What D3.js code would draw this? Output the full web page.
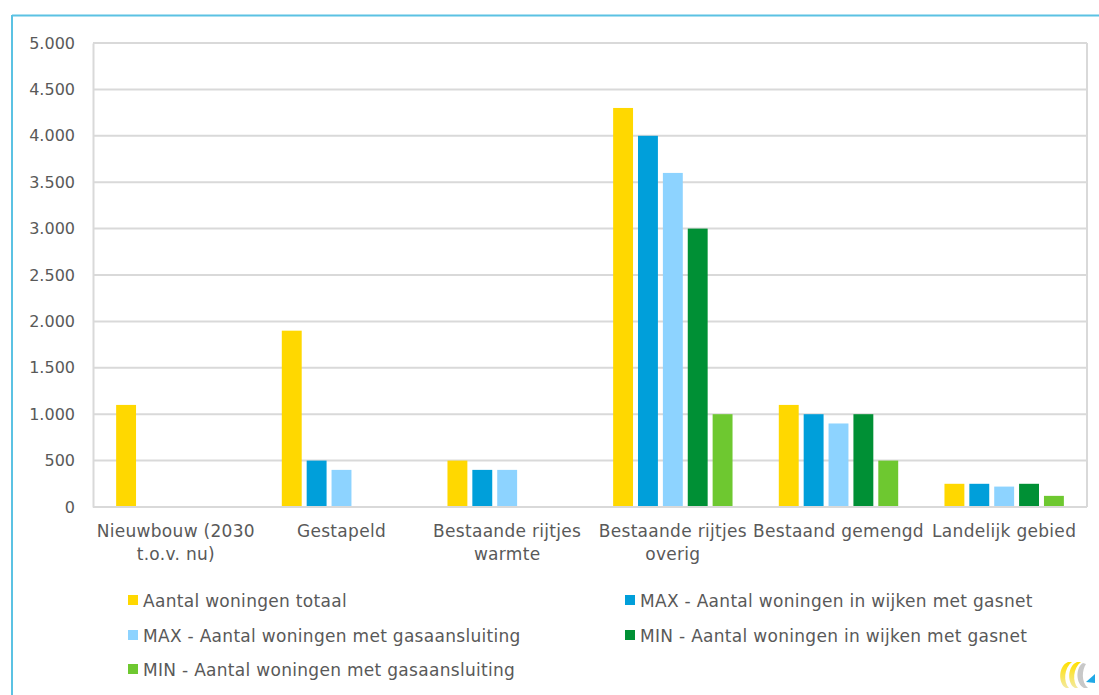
<!DOCTYPE html>
<html>
<head>
<meta charset="utf-8">
<script src="https://cdn.jsdelivr.net/npm/d3@7"></script>
<style>
  html, body { margin: 0; padding: 0; background: #fff; }
  svg { display: block; }
  text { font-family: "DejaVu Sans", sans-serif; fill: #595959; }
</style>
</head>
<body>
<svg id="chart" width="1099" height="695"></svg>
<script>
// Housing categories along the x axis (multi-line labels split on "|")
const categories = [
  "Nieuwbouw (2030|t.o.v. nu)",
  "Gestapeld",
  "Bestaande rijtjes|warmte",
  "Bestaande rijtjes|overig",
  "Bestaand gemengd",
  "Landelijk gebied"
];

// One array per series, in category order
const totaal      = [1100, 1900, 500, 4300, 1100, 250];
const maxWijken   = [0, 500, 400, 4000, 1000, 250];
const maxAansl    = [0, 400, 400, 3600, 900, 220];
const minWijken   = [0, 0, 0, 3000, 1000, 250];
const minAansl    = [0, 0, 0, 1000, 500, 120];

const seriesNames = [
  "Aantal woningen totaal",
  "MAX - Aantal woningen in wijken met gasnet",
  "MAX - Aantal woningen met gasaansluiting",
  "MIN - Aantal woningen in wijken met gasnet",
  "MIN - Aantal woningen met gasaansluiting"
];
const seriesValues = [totaal, maxWijken, maxAansl, minWijken, minAansl];
const seriesColors = ["#ffd800", "#009fda", "#8dd3ff", "#009035", "#6ec830"];

const yTicks = [0, 500, 1000, 1500, 2000, 2500, 3000, 3500, 4000, 4500, 5000];

const svg = d3.select("#chart");
const W = 1099, H = 695;
const plot = { left: 93, right: 1087, top: 43, bottom: 507 };

// Outer frame: thin blue rule on top and left
svg.append("line").attr("x1", 12).attr("x2", W).attr("y1", 15.5).attr("y2", 15.5)
  .attr("stroke", "#5bc2e3").attr("stroke-width", 2);
svg.append("line").attr("x1", 12).attr("x2", 12).attr("y1", 15).attr("y2", H)
  .attr("stroke", "#5bc2e3").attr("stroke-width", 2);

const x0 = d3.scaleBand().domain(categories).range([plot.left, plot.right]).paddingInner(0).paddingOuter(0);
const x1 = d3.scaleBand().domain(d3.range(seriesNames.length))
  .range([0, x0.bandwidth()]).paddingInner(0.2).paddingOuter(0.93);
const y = d3.scaleLinear().domain([0, 5000]).range([plot.bottom, plot.top]);

const fmt = v => d3.format(",")(v).replace(/,/g, ".");

// Horizontal gridlines
svg.append("g").selectAll("line").data(yTicks).join("line")
  .attr("x1", plot.left).attr("x2", plot.right)
  .attr("y1", d => y(d)).attr("y2", d => y(d))
  .attr("stroke", "#d9d9d9").attr("stroke-width", 2);

// Plot-area right rule
svg.append("line").attr("x1", plot.right).attr("x2", plot.right)
  .attr("y1", plot.top).attr("y2", plot.bottom).attr("stroke", "#d9d9d9").attr("stroke-width", 2);

// Y axis labels
const yAxis = d3.axisLeft(y).tickValues(yTicks).tickFormat(fmt).tickSize(0).tickPadding(18);
const gy = svg.append("g").attr("transform", `translate(${plot.left},0)`).call(yAxis);
gy.select(".domain").attr("stroke", "#d9d9d9").attr("stroke-width", 2);
gy.selectAll("text").style("font-size", "16px")
  .style("font-family", '"DejaVu Sans", sans-serif').attr("fill", "#595959");

// Bars
const groups = svg.append("g").selectAll("g").data(categories).join("g")
  .attr("transform", d => `translate(${x0(d)},0)`);
groups.selectAll("rect")
  .data((c, ci) => seriesValues.map((vals, si) => ({ si, v: vals[ci] })))
  .join("rect")
  .filter(d => d.v > 0)
  .attr("x", d => x1(d.si))
  .attr("width", x1.bandwidth())
  .attr("y", d => y(d.v))
  .attr("height", d => y(0) - y(d.v))
  .attr("fill", d => seriesColors[d.si]);

// Bottom axis line over the bars' base
svg.append("line").attr("x1", plot.left).attr("x2", plot.right)
  .attr("y1", y(0)).attr("y2", y(0)).attr("stroke", "#d9d9d9").attr("stroke-width", 2);

// Category labels
const xl = svg.append("g");
categories.forEach(c => {
  const lines = c.split("|");
  const cx = x0(c) + x0.bandwidth() / 2;
  const t = xl.append("text").attr("text-anchor", "middle")
    .attr("x", cx).attr("y", 537)
    .style("font-size", "17px").style("letter-spacing", "0.3px");
  lines.forEach((ln, i) => t.append("tspan")
    .attr("x", cx).attr("dy", i === 0 ? 0 : 23).text(ln));
});

// Legend, two columns
const legendPos = [
  [128, 601], [625, 601],
  [128, 636], [625, 636],
  [128, 670]
];
const lg = svg.append("g");
seriesNames.forEach((n, i) => {
  const [lx, ly] = legendPos[i];
  lg.append("rect").attr("x", lx).attr("y", ly - 6).attr("width", 10).attr("height", 10)
    .attr("fill", seriesColors[i]);
  lg.append("text").attr("x", lx + 15).attr("y", ly + 6)
    .style("font-size", "17px").style("letter-spacing", "0.3px").text(n);
});

// Small corner emblem
const logo = svg.append("g").attr("transform", "translate(1058,660)");
const grad = svg.append("defs").append("linearGradient").attr("id", "yel")
  .attr("x1", 0).attr("y1", 0).attr("x2", 0).attr("y2", 1);
grad.append("stop").attr("offset", 0).attr("stop-color", "#ffe000");
grad.append("stop").attr("offset", 1).attr("stop-color", "#f3e9a0");
logo.append("path").attr("d", "M10,2 C0,6 0,24 8,28 L11,28 C5,22 6,8 14,2 Z").attr("fill", "url(#yel)");
logo.append("path").attr("d", "M19,2 C9,6 9,24 17,28 L20,28 C14,22 15,8 23,2 Z").attr("fill", "url(#yel)");
logo.append("path").attr("d", "M25,3 C17,8 18,24 26,28 L30,28 C23,22 24,10 28,4 Z").attr("fill", "#c8c8c8");
logo.append("path").attr("d", "M28,22 L37,14 L37,23 Z").attr("fill", "#1fa8e6");
</script>
</body>
</html>
